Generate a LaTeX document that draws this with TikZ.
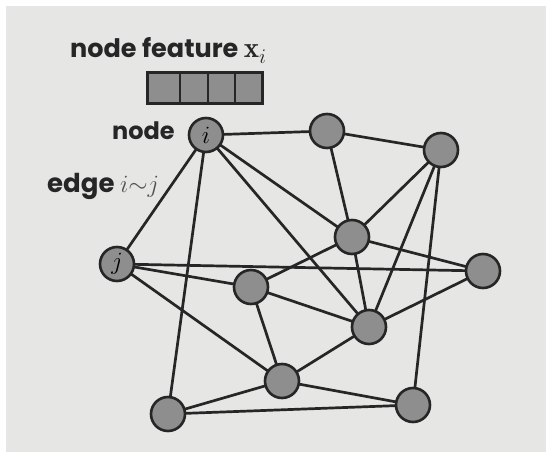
\documentclass[tikz,border=0pt]{standalone}
\usepackage{fontspec}
\newfontfamily\labfont{Poppins}
\definecolor{paper}{HTML}{E6E6E4}
\definecolor{ink}{HTML}{262626}
\definecolor{nodegray}{HTML}{8E8E8E}
\pgfdeclarelayer{paperlayer}
\pgfdeclarelayer{edgelayer}
\pgfsetlayers{paperlayer,edgelayer,main}
\begin{document}
\begin{tikzpicture}[x=1pt,y=-1pt,
  gnode/.style={circle,draw=ink,fill=nodegray,line width=2.6pt,minimum size=34pt,inner sep=0pt,font=\fontsize{24}{24}\selectfont},
  edge/.style={draw=ink,line width=2.7pt},
  lab/.style={text=ink,inner sep=0pt,anchor=base west,font=\labfont\bfseries\fontsize{24}{28}\selectfont},
  cell/.style={draw=ink,fill=nodegray,line width=1.6pt,minimum height=29pt,inner sep=0pt}]
\begin{pgfonlayer}{paperlayer}
\fill[white] (0,0) rectangle (551,457);
\fill[paper] (6,6) rectangle (546,452);
\end{pgfonlayer}
\useasboundingbox (0,0) rectangle (551,457);
% nodes
\node[gnode] (i) at (206,135) {$i$};
\node[gnode] (A) at (327,131) {};
\node[gnode] (B) at (441,150) {};
\node[gnode] (C) at (352,237) {};
\node[gnode] (j) at (117,264) {$j$};
\node[gnode] (D) at (251,287) {};
\node[gnode] (E) at (483,271) {};
\node[gnode] (F) at (369,327) {};
\node[gnode] (G) at (282,381) {};
\node[gnode] (H) at (168,414) {};
\node[gnode] (K) at (413,405) {};
% edges
\begin{pgfonlayer}{edgelayer}
\foreach \a/\b in {i/A,i/j,i/H,i/C,i/F,A/B,A/C,B/C,B/F,B/K,C/D,C/F,C/E,j/E,j/D,j/G,D/F,D/G,F/E,F/G,G/H,G/K,H/K}
  \draw[edge] (\a.center) -- (\b.center);
\end{pgfonlayer}
% feature vector
\node[cell,minimum width=32pt] (c1) at (164,88) {};
\node[cell,minimum width=28pt] (c2) at (194,88) {};
\node[cell,minimum width=27pt] (c3) at (221.5,88) {};
\node[cell,minimum width=27pt] (c4) at (248.5,88) {};
\draw[ink,line width=3pt] (c1.north west) rectangle (c4.south east);
% labels
\node[lab,font=\labfont\bfseries\fontsize{25.5}{28}\selectfont] (t1) at (70,58) {node feature {\fontsize{29}{29}\selectfont$\mathbf{x}_{i}$}};
\node[lab] (t2) at (112,140) {node};
\node[lab,font=\labfont\bfseries\fontsize{26}{28}\selectfont] (t3) at (47,193) {edge {\mdseries\color{ink!80}\fontsize{25}{25}\selectfont$i{\sim}j$}};
\end{tikzpicture}
\end{document}
